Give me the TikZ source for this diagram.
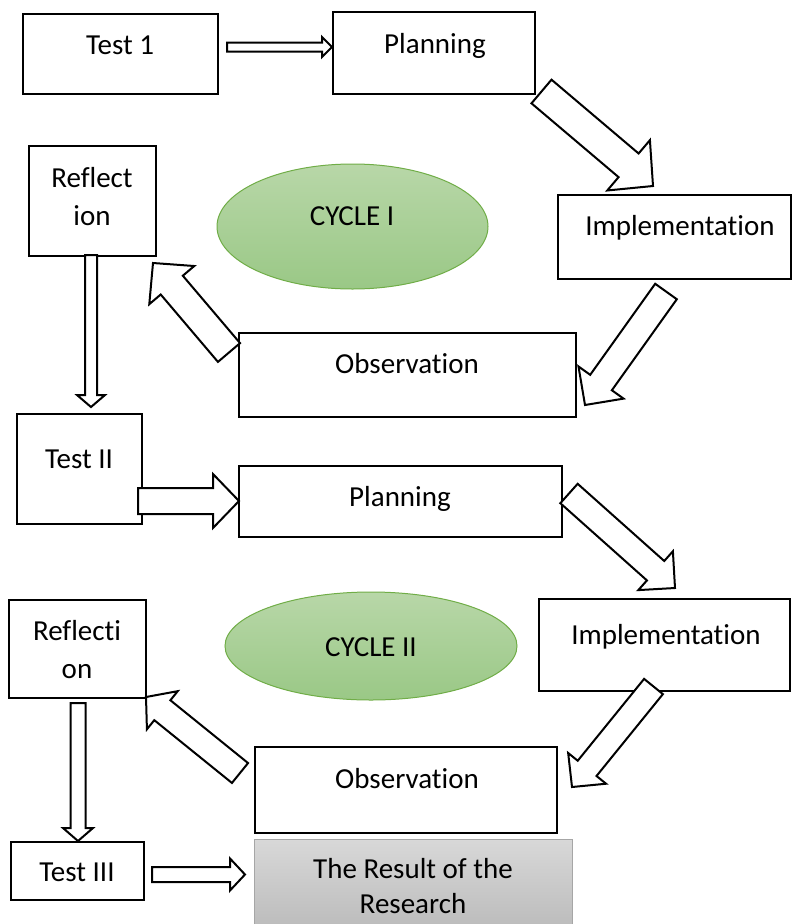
\documentclass[tikz,border=0pt]{standalone}
\usepackage{fontspec}
\setmainfont[Ligatures={NoCommon,NoContextual},Contextuals=NoAlternate]{Carlito}
\usetikzlibrary{calc}
\definecolor{ellTop}{RGB}{184,215,168}
\definecolor{ellBot}{RGB}{154,200,134}
\definecolor{ellLine}{RGB}{112,173,71}
\definecolor{resTop}{RGB}{216,216,216}
\definecolor{resBot}{RGB}{184,184,184}
\definecolor{resLine}{RGB}{166,166,166}
\newcommand\blkarrow[5]{%
  \coordinate (bh) at ($(#2)!#5!(#1)$);
  \draw[blockarrow] ($(#1)!#3!90:(#2)$) -- ($(bh)!#3!90:(#2)$) -- ($(bh)!#4!90:(#2)$) -- (#2)
     -- ($(bh)!#4!-90:(#2)$) -- ($(bh)!#3!-90:(#2)$) -- ($(#1)!#3!-90:(#2)$) -- cycle;}
\begin{document}
\begin{tikzpicture}[x=1pt,y=-1pt,
  box/.style={draw, line width=2pt, fill=white, inner sep=0pt},
  txt/.style={font=\fontsize{29}{35}\selectfont, anchor=base, inner sep=0pt},
  blockarrow/.style={draw, line width=2pt, fill=white, line join=miter},
  cyc/.style={draw=ellLine, line width=1pt, top color=ellTop, bottom color=ellBot}]
\useasboundingbox (0,0) rectangle (793,924);
\clip (0,0) rectangle (793,924);
% boxes
\node[box, minimum width=195pt, minimum height=80pt] (test1) at (120.5,54) {};
\node[box, minimum width=202pt, minimum height=82pt] (plan1) at (434,53) {};
\node[box, minimum width=233pt, minimum height=84pt] (impl1) at (674.5,237) {};
\node[box, minimum width=127pt, minimum height=110pt] (refl1) at (92.5,201) {};
\node[box, minimum width=337pt, minimum height=84pt] (obs1) at (407.5,375) {};
\node[box, minimum width=125pt, minimum height=110pt] (test2) at (79.5,469) {};
\node[box, minimum width=323pt, minimum height=71pt] (plan2) at (400.5,501.5) {};
\node[box, minimum width=251pt, minimum height=92pt] (impl2) at (664.5,645) {};
\node[box, minimum width=137pt, minimum height=98pt] (refl2) at (77.5,649) {};
\node[box, minimum width=302pt, minimum height=86pt] (obs2) at (406,790) {};
\node[box, minimum width=133pt, minimum height=58pt] (test3) at (77.5,871) {};
\node[draw=resLine, line width=1pt, top color=resTop, bottom color=resBot, inner sep=0pt,
      minimum width=318pt, minimum height=101pt] (result) at (413,889.5) {};
% ellipses
\path[cyc] (352.5,226.5) ellipse [x radius=135.5, y radius=62.5];
\coordinate (cyc1) at (352.5,226.5);
\path[cyc] (371,646) ellipse [x radius=146, y radius=54];
\coordinate (cyc2) at (371,646);
% texts
\node[txt] (t1t) at (120,54) {Test 1};
\node[txt] (p1t) at (435,53) {Planning};
\node[txt] (i1t) at (680,235) {Implementation};
\node[txt] (r1a) at (92,187) {Reflect};
\node[txt] (r1b) at (92,225) {ion};
\node[txt] (c1t) at (352,225) {CYCLE I};
\node[txt] (o1t) at (407,373) {Observation};
\node[txt] (t2t) at (79,468) {Test II};
\node[txt] (p2t) at (400,506) {Planning};
\node[txt] (i2t) at (666,644) {Implementation};
\node[txt] (r2a) at (77,640) {Reflecti};
\node[txt] (r2b) at (77,678) {on};
\node[txt] (c2t) at (371,656) {CYCLE II};
\node[txt] (o2t) at (407,788) {Observation};
\node[txt] (t3t) at (77,881) {Test III};
\node[txt] (rsa) at (413,878) {The Result of the};
\node[txt] (rsb) at (413,913) {Research};
% arrow end points
\coordinate (a1s) at (227,47);     \coordinate (a1e) at (332,47);
\coordinate (a2s) at (541.5,91.5); \coordinate (a2e) at (653,186);
\coordinate (a3s) at (666,291.5);  \coordinate (a3e) at (585,405);
\coordinate (a4s) at (229,352.5);  \coordinate (a4e) at (153,263);
\coordinate (a5s) at (91,255);     \coordinate (a5e) at (91,407);
\coordinate (a6s) at (138,501);    \coordinate (a6e) at (239,501);
\coordinate (a7s) at (569,493.5);  \coordinate (a7e) at (675,588);
\coordinate (a8s) at (653.5,686.5);\coordinate (a8e) at (572,787);
\coordinate (a9s) at (240,773);    \coordinate (a9e) at (146,697);
\coordinate (a10s) at (78,703);    \coordinate (a10e) at (78,841);
\coordinate (a11s) at (152,874.5); \coordinate (a11e) at (245,874.5);
% block arrows
\blkarrow{a1s}{a1e}{4.5pt}{10pt}{10pt}
\blkarrow{a2s}{a2e}{15.5pt}{33pt}{32pt}
\blkarrow{a3s}{a3e}{13.3pt}{27.7pt}{27.6pt}
\blkarrow{a4s}{a4e}{14.5pt}{29.5pt}{29pt}
\blkarrow{a5s}{a5e}{6pt}{14pt}{12pt}
\blkarrow{a6s}{a6e}{13pt}{27pt}{26pt}
\blkarrow{a7s}{a7e}{13pt}{26pt}{26pt}
\blkarrow{a8s}{a8e}{12.1pt}{24.4pt}{24pt}
\blkarrow{a9s}{a9e}{12.8pt}{24.5pt}{21pt}
\blkarrow{a10s}{a10e}{7.5pt}{15pt}{13pt}
\blkarrow{a11s}{a11e}{7.5pt}{16pt}{15pt}
\end{tikzpicture}
\end{document}
